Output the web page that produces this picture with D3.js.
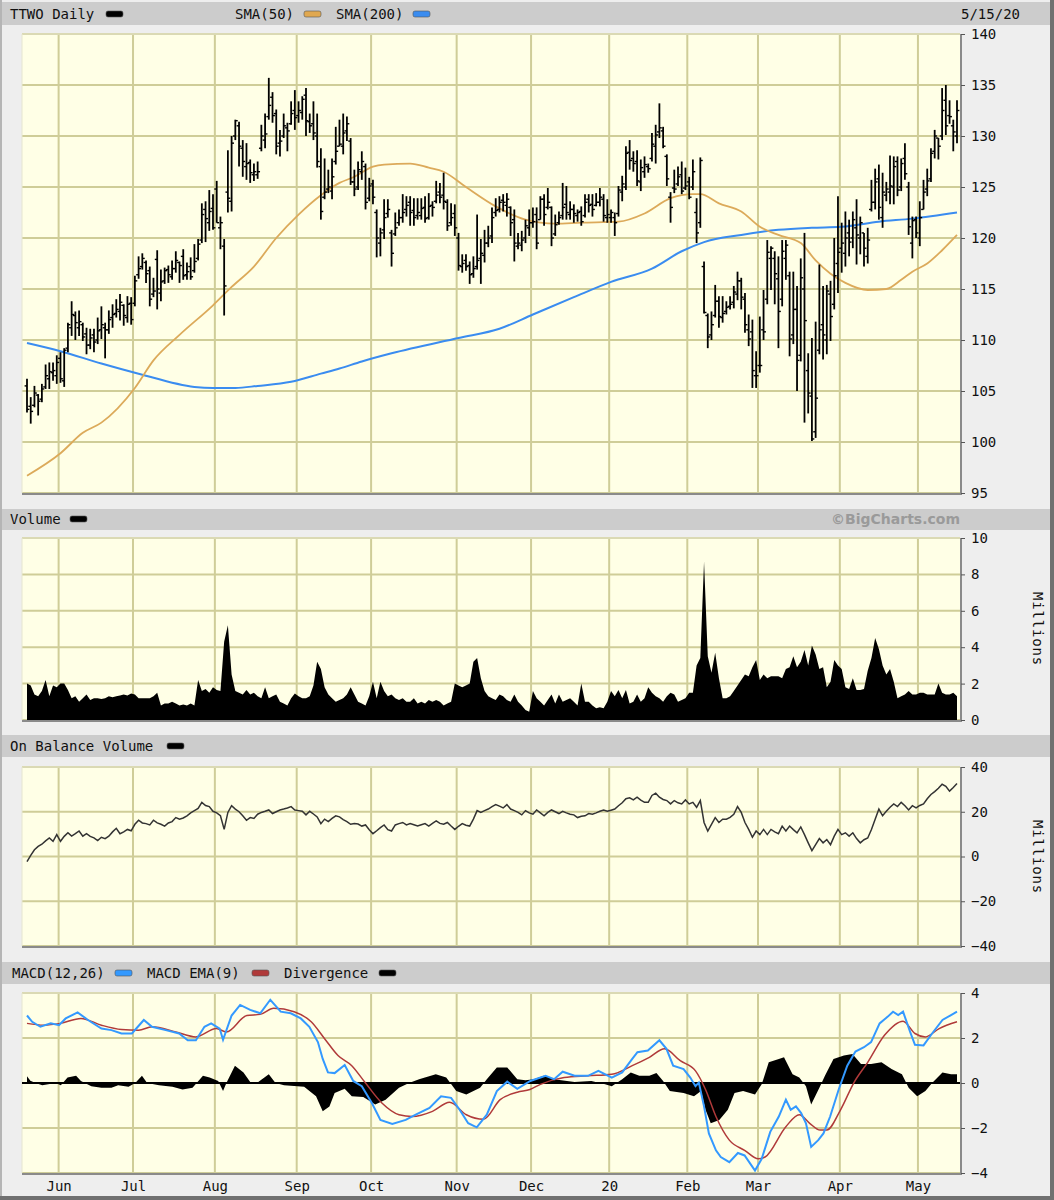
<!DOCTYPE html>
<html><head><meta charset="utf-8">
<script src="https://cdnjs.cloudflare.com/ajax/libs/d3/7.8.5/d3.min.js"></script>
<style>
body{margin:0;background:#eeeeee}
svg{display:block}
</style>
</head><body>
<svg id="c" width="1054" height="1200"></svg>
<script>
// ---------------- DATA ----------------
const opens=[105.5,103.5,103.6,104.6,104.2,105.4,106.2,106.8,106.5,108.2,
106.0,109.2,111.2,112.4,111.2,111.5,110.6,109.5,110.5,110.0,
111.0,111.2,111.0,112.2,112.6,112.8,113.4,112.2,113.6,113.6,
116.4,117.2,117.6,116.8,114.5,117.9,114.6,115.8,116.9,116.2,
117.0,117.6,118.2,116.4,117.2,116.8,118.0,119.8,122.8,121.5,
122.9,124.8,121.0,119.2,124.5,123.6,130.0,131.0,128.8,127.0,
127.4,126.2,126.2,128.8,129.6,131.9,133.8,132.2,129.3,130.0,
130.8,131.2,132.5,132.0,132.3,134.0,131.4,131.2,130.0,127.0,
124.0,124.8,124.6,127.5,129.0,129.0,130.5,129.5,125.5,125.0,
126.5,127.0,123.9,125.3,122.5,119.5,120.8,122.4,120.5,120.4,
121.5,122.0,122.8,123.5,122.7,122.2,122.2,123.0,122.0,123.2,
123.6,124.5,124.2,123.5,121.5,122.4,120.0,117.2,117.8,117.3,
116.5,117.2,118.0,118.3,119.5,120.2,122.5,122.8,123.7,123.2,
123.0,121.8,119.2,119.3,120.0,121.0,121.5,122.3,121.8,123.8,
123.0,123.0,120.4,121.5,122.2,123.3,122.3,122.8,122.2,122.6,
122.2,123.8,123.3,123.2,123.5,123.8,122.0,122.0,122.0,122.4,
124.5,125.0,128.4,127.8,127.5,125.5,126.5,127.0,127.8,129.0,
130.4,130.5,128.0,124.0,124.9,125.3,126.2,124.9,125.5,125.0,
122.5,121.5,117.2,112.4,110.5,112.4,113.8,112.2,112.8,113.3,
113.7,114.5,115.8,114.0,111.0,110.8,106.5,107.5,111.0,114.0,
118.0,118.0,116.0,114.0,118.0,116.3,110.5,113.0,108.5,115.0,
107.0,104.5,101.0,109.0,111.5,110.0,114.5,113.5,117.5,119.0,
118.5,120.5,120.0,121.0,120.0,120.5,118.2,122.8,123.5,125.8,
122.0,124.2,124.5,125.0,127.5,125.0,127.8,125.0,119.5,121.8,
120.0,122.8,124.8,125.8,128.5,129.8,130.0,133.5,132.0,131.0,
130.0];
const highs=[106.2,104.4,105.5,104.7,105.7,107.6,107.8,107.8,108.5,108.8,
109.2,111.7,113.8,112.8,112.9,111.7,111.2,111.1,111.1,112.2,
113.3,111.7,112.9,113.5,114.0,114.5,113.5,114.3,114.2,116.3,
118.2,118.5,117.8,117.2,116.1,118.8,116.9,117.1,117.3,117.8,
118.7,117.7,118.9,117.6,118.1,119.4,119.9,123.4,123.6,124.7,
124.3,125.6,122.1,119.9,128.6,130.0,131.6,131.4,129.6,129.3,
127.7,127.3,127.5,131.1,132.2,135.7,134.3,132.6,130.6,132.2,
131.3,133.4,134.5,133.4,133.9,134.7,132.2,133.4,132.2,128.8,
127.8,126.7,127.8,130.9,131.6,132.2,131.9,129.8,126.7,127.5,
128.5,127.3,125.9,125.7,122.8,121.0,123.8,123.8,120.8,122.5,
122.8,124.3,124.1,124.1,123.9,123.9,123.9,124.1,124.4,123.6,
125.6,125.4,126.4,123.8,123.4,123.3,120.5,118.4,118.4,117.7,
118.2,122.3,119.9,120.8,121.2,123.0,123.9,124.1,124.3,124.4,
123.1,122.8,120.5,120.7,121.8,122.8,123.0,123.0,124.1,124.3,
124.9,123.1,122.3,122.6,125.4,125.1,123.6,123.3,122.8,123.1,
124.3,124.3,124.3,124.4,124.9,124.3,123.8,122.8,122.5,125.1,
126.1,129.0,129.6,128.5,128.6,127.7,128.0,127.3,130.3,131.1,
133.2,130.9,128.2,124.5,126.7,127.0,127.5,126.9,126.0,127.7,
123.9,127.9,117.7,112.6,112.8,115.4,114.3,114.3,113.8,114.3,
115.3,116.7,116.1,114.6,112.5,112.0,108.9,112.3,114.9,119.8,
119.2,118.7,118.2,119.8,119.8,116.7,116.7,115.3,118.0,120.5,
108.7,110.2,111.8,117.4,115.3,115.4,115.8,120.0,124.1,121.5,
122.6,121.8,122.6,123.8,122.1,120.5,121.0,125.7,126.8,127.2,
126.4,125.5,128.1,128.0,128.0,127.8,129.3,125.5,122.1,122.1,
123.6,125.7,126.8,128.8,130.6,129.8,134.7,135.0,133.5,131.6,
133.5];
const lows=[102.9,101.8,103.4,102.6,103.9,105.2,105.2,106.0,105.7,105.8,
105.4,108.8,110.4,110.0,110.4,109.9,108.6,109.1,108.8,109.6,
110.1,108.2,110.6,111.2,112.2,111.9,111.4,111.7,111.5,113.3,
116.0,116.9,115.6,113.3,114.2,113.0,113.8,115.5,115.6,115.9,
116.6,115.6,115.9,115.9,115.9,116.6,117.8,119.5,119.6,120.7,
120.8,121.5,118.9,112.4,122.5,122.6,129.6,127.0,126.0,125.7,
125.4,125.6,125.8,128.5,128.8,131.6,131.3,128.2,128.0,129.8,
128.5,131.1,130.6,131.3,131.6,130.0,130.3,129.6,126.9,121.8,
123.8,124.4,123.8,127.2,129.0,128.2,129.5,125.2,124.1,124.7,
125.7,122.8,123.6,123.3,118.1,118.2,119.9,122.0,117.2,120.2,
121.2,121.5,122.1,121.2,121.2,121.8,121.8,121.5,121.8,122.1,
123.4,123.4,122.8,120.7,121.2,120.2,116.8,116.6,116.8,115.5,
116.1,116.9,115.5,117.6,119.1,119.5,122.1,122.5,122.6,122.1,
120.2,117.7,118.9,118.7,119.5,120.2,121.0,118.9,121.8,121.2,
122.8,119.2,120.2,121.3,121.8,121.8,121.8,121.5,121.6,121.2,
122.0,122.5,122.1,123.1,123.1,121.6,121.5,121.5,120.2,122.1,
123.6,124.7,126.7,126.5,125.1,124.6,125.9,126.4,127.5,127.3,
129.8,128.8,125.1,121.5,124.4,125.1,124.3,124.7,123.8,124.7,
119.5,121.0,112.6,109.2,110.0,112.2,111.2,111.7,112.5,113.0,
113.1,113.9,113.0,110.7,109.4,105.3,105.3,106.8,110.0,113.5,
114.9,113.5,109.2,113.3,115.9,108.4,109.6,105.0,107.9,101.9,
102.8,100.1,100.4,108.6,108.1,108.6,109.9,113.0,114.6,116.6,
117.2,118.2,119.0,117.4,118.4,117.2,117.5,122.6,122.8,121.8,
121.0,123.6,123.3,123.3,124.1,124.6,125.7,120.3,118.0,120.0,
119.2,122.8,124.1,125.5,127.8,127.7,129.6,130.1,131.2,128.5,
129.3];
const closes=[103.2,103.0,104.8,104.0,105.2,106.5,106.9,107.0,107.8,106.2,
109.0,111.5,112.5,111.7,111.8,110.3,109.5,110.2,109.8,110.9,
111.5,111.0,112.0,112.5,113.0,113.7,112.4,113.5,112.0,115.8,
117.0,118.0,116.5,114.0,114.8,115.0,115.7,116.8,116.4,117.0,
117.8,117.3,116.3,116.7,116.2,117.7,119.4,122.3,121.9,122.6,
121.0,121.5,121.5,115.3,123.9,129.3,131.5,129.0,127.5,127.3,
126.4,126.5,126.5,130.0,130.2,133.0,132.0,129.0,129.5,131.0,
130.5,132.2,131.8,132.5,133.6,131.5,131.0,130.3,127.5,122.6,
124.5,125.0,126.0,128.5,129.2,130.3,131.2,125.5,124.8,126.7,
127.5,123.5,125.1,124.0,120.0,120.5,122.0,122.8,118.5,121.0,
122.0,122.5,123.2,122.5,122.0,122.5,122.9,121.9,123.1,123.0,
124.2,124.0,123.6,121.2,122.0,121.0,117.3,117.5,117.2,116.4,
117.0,117.8,118.5,119.5,120.0,122.0,122.7,123.5,123.5,123.8,
121.5,119.5,119.5,119.8,121.2,121.5,121.6,119.5,123.8,122.3,
123.5,120.0,121.3,122.0,123.0,122.5,122.8,122.4,122.5,121.6,
123.5,123.2,122.8,123.5,124.0,122.2,122.3,122.5,121.5,124.7,
125.3,128.3,127.6,127.3,125.6,126.9,127.2,126.8,129.2,130.1,
130.8,129.0,125.8,123.0,124.8,126.0,124.6,125.1,124.0,126.5,
120.5,127.6,112.7,110.3,111.5,113.8,112.3,112.6,113.2,113.5,
114.7,115.8,114.2,111.5,110.1,107.0,106.5,107.5,110.8,118.6,
119.0,116.5,112.8,118.7,119.3,110.1,113.0,108.0,116.1,111.9,
104.8,100.3,104.3,111.0,110.5,114.8,112.3,116.3,118.6,119.5,
120.0,119.6,121.8,120.3,121.5,119.0,119.8,123.5,125.5,123.0,
124.5,124.8,125.1,127.0,124.7,127.3,126.3,121.1,121.7,120.5,
122.0,124.5,125.6,128.3,130.0,129.0,132.5,131.0,131.9,130.4,
132.5];
const volume=[2.0,1.9,1.4,1.3,1.6,2.2,1.3,1.9,1.8,2.0,
2.0,1.65,1.2,1.3,1.0,1.2,1.4,1.1,1.2,1.2,
1.15,1.2,1.3,1.25,1.3,1.35,1.4,1.35,1.45,1.4,
1.2,1.2,1.2,1.2,1.3,1.5,0.8,0.9,0.9,1.0,
0.9,0.8,0.85,0.8,0.9,0.8,2.2,1.6,1.7,1.5,
1.8,1.65,1.6,4.3,5.2,2.5,1.6,1.5,1.4,1.65,
1.4,1.5,1.3,1.2,1.8,1.2,1.3,1.4,1.0,0.9,
0.8,1.2,1.45,1.3,1.2,1.2,1.3,1.9,3.2,2.8,
1.8,1.4,1.2,1.0,1.1,1.2,1.4,1.8,1.4,1.0,
0.9,0.8,1.3,2.1,1.2,2.1,1.6,1.3,1.4,1.2,
1.1,1.2,1.0,1.0,1.2,0.9,1.0,0.9,1.1,1.0,
1.1,1.0,0.8,0.9,1.0,2.0,1.9,1.8,1.9,2.0,
3.2,3.4,2.3,1.6,1.3,1.2,1.1,1.4,1.3,1.1,
1.0,1.4,1.0,0.8,0.55,0.45,1.6,1.2,1.0,0.8,
1.1,1.4,0.9,1.4,1.0,1.1,1.2,1.0,0.8,2.0,
1.0,1.0,0.8,0.65,0.7,0.65,1.0,1.6,1.3,1.65,
1.2,1.65,0.9,1.0,1.4,1.0,1.2,1.8,1.5,1.3,
1.2,1.0,1.3,1.5,1.4,1.0,1.1,1.2,1.5,1.5,
3.0,3.4,8.7,3.5,2.6,3.7,2.3,1.2,1.2,1.3,
1.6,1.9,2.2,2.5,2.4,2.9,3.3,2.2,2.5,2.3,
2.4,2.4,2.4,2.3,2.8,2.9,3.5,2.9,3.2,3.85,
3.0,4.1,3.6,2.8,2.9,1.8,2.1,3.3,3.0,2.8,
1.8,1.7,2.3,1.65,1.65,1.7,2.7,3.4,4.5,3.9,
3.0,2.5,2.8,2.1,1.2,1.3,1.4,1.6,1.4,1.4,
1.5,1.5,1.4,1.4,1.4,2.0,1.5,1.4,1.4,1.5,
1.3];
const obv=[-2.3,0.5,3.0,4.5,5.5,7.0,8.3,6.8,9.8,6.8,
9.0,10.6,9.1,10.2,11.4,9.1,10.2,9.0,8.3,7.1,
8.6,8.0,9.1,11.0,12.6,10.2,11.0,12.1,11.5,14.4,
16.2,15.0,14.7,14.1,16.2,15.0,14.4,13.6,15.0,15.6,
17.4,16.7,17.2,18.2,19.5,20.5,21.5,24.2,22.8,22.3,
20.2,19.5,18.2,12.1,19.7,22.7,21.2,20.0,18.2,16.2,
17.4,17.0,18.9,19.7,20.2,20.8,19.2,20.0,20.8,21.2,
21.7,22.3,20.8,20.5,20.2,18.6,20.2,19.0,17.7,14.7,
16.7,15.6,17.0,18.2,17.7,16.5,15.6,14.4,14.7,14.5,
13.6,14.1,12.0,10.2,11.5,12.9,14.1,12.0,11.4,14.1,
14.7,15.2,14.1,14.7,14.2,13.6,14.2,14.7,13.6,14.8,
15.9,14.8,14.4,15.2,13.6,12.1,13.5,14.7,14.0,13.6,
16.7,20.5,19.7,20.5,21.2,22.3,23.2,22.5,21.7,23.2,
21.2,20.5,19.7,18.6,20.5,19.5,18.9,20.8,19.5,18.2,
19.7,20.8,20.0,19.2,20.2,19.5,18.9,18.6,17.4,18.0,
18.2,19.2,18.9,19.5,20.2,20.8,20.2,20.7,21.2,22.7,
24.0,25.8,26.2,25.3,26.5,25.2,24.2,24.2,27.3,28.3,
26.5,25.5,25.0,23.5,25.0,24.0,23.5,25.3,23.5,24.2,
22.0,25.0,15.2,11.4,14.4,17.4,15.2,16.7,16.7,17.5,
18.9,22.3,19.7,15.2,12.1,8.6,11.4,9.8,12.1,9.8,
12.1,11.0,10.2,13.6,11.4,13.6,12.0,10.6,13.2,9.8,
6.1,2.6,5.3,8.0,6.1,7.6,5.3,9.1,12.1,9.8,
10.6,9.1,10.6,8.0,6.1,7.5,8.3,12.1,16.7,21.2,
18.2,20.2,22.0,23.5,22.3,24.2,22.7,20.8,22.7,21.7,
22.8,23.5,25.8,27.7,29.0,30.5,32.3,31.4,29.2,30.8,
32.6];
// moving averages and MACD, read at trading-day positions
const sma50Day=[0,9,15,20,29,34,41,50,55,61,67,73,79,84,88,93,96,103,108,112,118,126,134,142,149,159,166,173,179,181,186,192,197,202,208,212,216,220,226,231,235,238,242,246,250];
const sma50Val=[96.7,98.9,100.9,101.9,105.3,108,110.5,113.4,115.2,117.2,120,122.3,124.2,125.4,126.0,127,127.2,127.3,126.9,126.5,125,123.1,121.8,121.4,121.5,121.6,122.4,123.9,124.3,124.3,123.4,122.6,121.1,120.3,119.5,117.8,116.5,115.6,114.9,115,115.9,116.7,117.5,118.8,120.3];
const sma200Day=[0,9,20,30,45,50,56,62,71,79,84,90,98,116,127,136,147,157,168,176,182,192,202,211,219,229,238,250];
const sma200Val=[109.7,108.9,107.7,106.7,105.4,105.3,105.3,105.5,105.9,106.7,107.2,107.9,108.7,110.2,111.1,112.5,114.2,115.7,117,118.7,119.6,120.3,120.8,121.0,121.1,121.6,121.9,122.5];
const macdDay=[0,1.4,3.6,6.4,8.6,10.4,13.6,16.4,20,22.7,25.4,28.2,31.4,33.6,37.3,40.9,43.2,45.4,47.7,49.5,51.8,52.7,55,57.3,60,62.7,65.4,68.2,70.9,73.6,75.9,78.2,79.5,80.9,82.7,85.4,87.7,90,92.7,95,98.2,101.8,104.5,108.2,111.3,114,116.3,118.6,120.9,123.6,126.3,129.1,131.8,135.3,139.4,141.7,144,147.2,150.8,153.6,157.2,160,162.7,164.1,166.9,170,171.9,173.7,176.5,178.3,179.7,180.6,182,183.3,185.2,186.5,188.8,191.1,192.9,195.7,197.5,199.8,202.1,204,205.3,206.7,208.1,209.4,210.8,212.7,214.1,215.9,218.2,220.5,222.7,225,226.9,229.2,231.4,232.8,234.2,235.5,237.4,238.7,241,243.3,246.1,248.4,250];
const macdVal=[3.0,2.72,2.5,2.65,2.57,2.87,3.14,2.8,2.42,2.35,2.2,2.2,2.8,2.5,2.35,2.2,1.9,1.9,2.5,2.65,2.42,1.92,3.0,3.47,3.25,3.1,3.7,3.17,3.1,2.87,2.5,1.82,1.07,0.47,0.44,0.8,0.09,-0.14,-0.89,-1.64,-1.82,-1.64,-1.41,-1.11,-0.59,-0.66,-1.19,-1.79,-1.97,-1.41,-0.36,0.06,-0.26,0.09,0.32,0.17,0.5,0.32,0.32,0.54,0.24,0.47,1.07,1.37,1.44,1.9,1.52,0.77,0.62,0.24,-0.14,0.02,-1.04,-2.24,-2.99,-3.29,-3.52,-3.11,-3.22,-3.89,-3.37,-2.17,-1.49,-0.74,-1.19,-1.04,-1.34,-1.79,-2.84,-2.54,-2.24,-1.49,-0.29,0.77,1.4,1.59,1.82,2.65,2.95,3.17,3.02,3.17,2.27,1.7,1.67,2.2,2.8,3.02,3.17];
const emaDay=[0,4.5,9,14.5,20,25.4,30,33.6,40,45.4,50.9,53.6,59.1,62.7,66.3,71.8,76.4,80,83.6,87.3,90.9,95.4,100,103.6,109,113.6,118.1,122.7,127.2,131.8,135.2,138,144.4,150.8,157.2,162.7,167.3,171.4,175.6,179.7,182.4,185.2,188.8,192.9,196.6,198.4,204,207.6,210.4,213.2,215,218.7,222.3,226,230.5,235.5,238.7,241.5,245.2,250];
const emaVal=[2.65,2.57,2.65,2.87,2.57,2.38,2.35,2.5,2.27,2.05,2.42,2.27,3.0,3.05,3.32,3.17,2.72,1.97,1.22,0.77,0.02,-0.89,-1.41,-1.49,-1.26,-0.86,-1.41,-1.61,-0.74,-0.41,-0.29,-0.06,0.24,0.32,0.39,0.77,1.14,1.52,0.99,0.54,-0.29,-1.49,-2.54,-2.99,-3.37,-3.29,-1.94,-1.41,-1.79,-2.09,-2.09,-1.19,0.02,0.92,2.12,2.75,2.2,2.05,2.42,2.72];
const divDay=[0,0.9,2.3,4.1,7.7,9.1,10.9,13.2,14.5,17.3,20,22.7,24.5,27.3,29.1,30.9,32.3,35.5,39.1,41.8,44.5,47.3,49.1,51.4,52.7,53.6,55.9,58.2,60,61.8,65,66.8,69.1,74.5,77.7,79.5,81.3,82.7,85.4,87.3,90.4,93.6,96.4,100,102.7,105.4,109.9,112.7,115.4,118.1,121.8,123.6,126.3,129.1,131.8,134,136.2,138.9,142.6,147.2,151.7,155.4,157.2,160,162.3,164.6,167.3,169.2,171,172.8,176.5,179.3,181.2,182.4,183.8,186.1,188.4,190.2,192.5,195.7,197.5,199.4,202.1,203.5,205.8,207.6,209.4,210.8,213.2,214.5,216.8,219.6,221.9,224.2,226.9,229.7,232.4,235.2,237,239.3,241.5,243.3,246.1,248.4,250];
const divVal=[0.3,0.1,0,-0.1,0,-0.1,0.24,0.32,0.09,-0.14,-0.21,-0.21,-0.1,-0.17,0,0.32,0,-0.1,-0.17,-0.29,-0.21,0.32,0.24,0.09,-0.36,0,0.77,0.47,0.05,0,0.39,0,-0.1,-0.17,-0.59,-1.26,-1.04,-0.44,-0.26,-0.59,-0.62,-0.96,-0.74,-0.21,0,0.17,0.39,0.24,-0.36,-0.51,-0.21,0.17,0.69,0.69,0.17,0.12,0.17,0.32,0.14,0.05,0.09,-0.06,-0.14,0.17,0.47,0.32,0.32,0.44,0.09,-0.36,-0.44,-0.59,-0.36,-1.19,-1.79,-1.64,-1.19,-0.44,-0.36,-0.51,-0.06,0.92,1.07,1.14,0.39,0.24,-0.14,-0.96,-0.14,0.32,1.07,1.22,1.29,0.84,0.84,0.92,0.62,0.39,-0.21,-0.59,-0.36,0,0.47,0.39,0.39];
const monthLabels=["Jun","Jul","Aug","Sep","Oct","Nov","Dec","20","Feb","Mar","Apr","May"];
const monthStart=[9,29,51,73,93,116,136,157,178,197,219,240];
const priceTicks=[95,100,105,110,115,120,125,130,135,140];
const volTicks=[0,2,4,6,8,10];
const obvTicks=[-40,-20,0,20,40];
const macdTicks=[-4,-2,0,2,4];

// ---------------- DRAW ----------------
const FONT='"DejaVu Sans Mono", monospace';
const svg=d3.select("#c");
const W=1054,H=1200,L=22,R=960;
const x=d3.scaleLinear().domain([0,closes.length-1]).range([27,957]);

svg.append("rect").attr("width",W).attr("height",H).attr("fill","#eeeeee");
svg.append("rect").attr("x",0).attr("y",0).attr("width",2).attr("height",H).attr("fill","#b5b5b5");
svg.append("rect").attr("x",1050).attr("y",0).attr("width",4).attr("height",H).attr("fill","#707070");
svg.append("rect").attr("x",0).attr("y",1196).attr("width",W).attr("height",4).attr("fill","#707070");

function header(top,h,items,right){
  svg.append("rect").attr("x",2).attr("y",top).attr("width",1048).attr("height",h).attr("fill","#cccccc");
  const base=top+h-6;
  items.forEach(it=>{
    svg.append("text").attr("x",it.x).attr("y",base).attr("font-family",FONT).attr("font-size",14).attr("fill","#111").text(it.t);
    if(it.c){
      svg.append("rect").attr("x",it.sx).attr("y",base-8).attr("width",17).attr("height",6).attr("rx",2)
        .attr("fill",it.c).attr("stroke","#555").attr("stroke-width",0.6);
    }
  });
  if(right){
    svg.append("text").attr("x",right.x).attr("y",base).attr("text-anchor",right.anchor||"start")
      .attr("font-family",right.font||FONT).attr("font-size",right.size||14).attr("font-weight",right.weight||"normal")
      .attr("fill",right.fill||"#111").text(right.t);
  }
}
header(2,23,[{t:"TTWO Daily",x:10,c:"#000",sx:106},{t:"SMA(50)",x:235,c:"#e0a850",sx:304},{t:"SMA(200)",x:336,c:"#3a8cf0",sx:413}],{t:"5/15/20",x:961});
header(509,21,[{t:"Volume",x:10,c:"#000",sx:70}],{t:"©BigCharts.com",x:960,anchor:"end",font:'"DejaVu Sans", sans-serif',weight:"bold",fill:"#9a9a9a",size:14});
header(735,22,[{t:"On Balance Volume",x:10,c:"#000",sx:167}]);
header(962,22,[{t:"MACD(12,26)",x:12,c:"#3399ff",sx:115},{t:"MACD EMA(9)",x:147,c:"#b03a3a",sx:252},{t:"Divergence",x:284,c:"#000",sx:379}]);

function panel(top,bottom,domain,ticks){
  const y=d3.scaleLinear().domain(domain).range([bottom,top]);
  const g=svg.append("g");
  g.append("rect").attr("x",L).attr("y",top).attr("width",R-L).attr("height",bottom-top).attr("fill","#ffffe6");
  g.selectAll(null).data(monthStart).join("line")
    .attr("x1",d=>x(d-0.5)).attr("x2",d=>x(d-0.5)).attr("y1",top).attr("y2",bottom)
    .attr("stroke","#cfcd98").attr("stroke-width",2);
  g.selectAll(null).data(ticks).join("line")
    .attr("x1",L).attr("x2",R).attr("y1",d=>y(d)).attr("y2",d=>y(d))
    .attr("stroke","#cfcd98").attr("stroke-width",2);
  g.append("line").attr("x1",L).attr("x2",R).attr("y1",top).attr("y2",top).attr("stroke","#e6e6d0").attr("stroke-width",1);
  g.append("line").attr("x1",L).attr("x2",L).attr("y1",top).attr("y2",bottom).attr("stroke","#e6e6d0").attr("stroke-width",1);
  g.append("line").attr("x1",L).attr("x2",R+2).attr("y1",bottom+1).attr("y2",bottom+1).attr("stroke","#8a8a8a").attr("stroke-width",2);
  g.append("line").attr("x1",R+1).attr("x2",R+1).attr("y1",top).attr("y2",bottom+2).attr("stroke","#8a8a8a").attr("stroke-width",2);
  const ax=svg.append("g").attr("transform",`translate(${R+1},0)`)
    .call(d3.axisRight(y).tickValues(ticks).tickSize(4).tickPadding(6).tickFormat(d3.format("d")));
  ax.select(".domain").remove();
  ax.selectAll("line").attr("stroke","#555");
  ax.selectAll("text").attr("font-family",FONT).attr("font-size",14).attr("fill","#111");
  return y;
}

// price panel
const yp=panel(34,493,[95,140],priceTicks);
const pts=(days,vals)=>days.map((d,i)=>[d,vals[i]]);
const pg=svg.append("g");
pg.append("path").datum(pts(sma200Day,sma200Val)).attr("fill","none").attr("stroke","#3a8cf0").attr("stroke-width",2)
  .attr("d",d3.line().x(d=>x(d[0])).y(d=>yp(d[1])).curve(d3.curveMonotoneX));
pg.append("path").datum(pts(sma50Day,sma50Val)).attr("fill","none").attr("stroke","#dcaa5a").attr("stroke-width",1.8)
  .attr("d",d3.line().x(d=>x(d[0])).y(d=>yp(d[1])).curve(d3.curveMonotoneX));
const idx=d3.range(closes.length);
pg.selectAll(null).data(idx).join("line")
  .attr("x1",i=>x(i)).attr("x2",i=>x(i)).attr("y1",i=>yp(highs[i])).attr("y2",i=>yp(lows[i]))
  .attr("stroke","#000").attr("stroke-width",1.8);
pg.selectAll(null).data(idx).join("line")
  .attr("x1",i=>x(i)-2.4).attr("x2",i=>x(i)).attr("y1",i=>yp(opens[i])).attr("y2",i=>yp(opens[i]))
  .attr("stroke","#000").attr("stroke-width",1.4);
pg.selectAll(null).data(idx).join("line")
  .attr("x1",i=>x(i)).attr("x2",i=>x(i)+2.4).attr("y1",i=>yp(closes[i])).attr("y2",i=>yp(closes[i]))
  .attr("stroke","#000").attr("stroke-width",1.4);

// volume panel
const yv=panel(538,720,[0,10],volTicks);
svg.append("path").datum(volume).attr("fill","#000")
  .attr("d",d3.area().x((d,i)=>x(i)).y0(yv(0)).y1(d=>yv(d)));

// OBV panel
const yo=panel(767,946,[-40,40],obvTicks);
svg.append("path").datum(obv).attr("fill","none").attr("stroke","#333").attr("stroke-width",1.5)
  .attr("d",d3.line().x((d,i)=>x(i)).y(d=>yo(d)));

// Millions labels
[[629],[857]].forEach(([cy])=>{
  svg.append("text").attr("transform",`translate(1033,${cy}) rotate(90)`).attr("text-anchor","middle")
    .attr("font-family",FONT).attr("font-size",14).attr("letter-spacing",0.8).attr("fill","#111").text("Millions");
});

// MACD panel
const ym=panel(993,1173,[-4,4],macdTicks);
svg.append("path").datum(pts(divDay,divVal)).attr("fill","#000")
  .attr("d",d3.area().x(d=>x(d[0])).y0(ym(0)).y1(d=>ym(d[1])));
svg.append("line").attr("x1",L).attr("x2",R).attr("y1",ym(0)).attr("y2",ym(0)).attr("stroke","#000").attr("stroke-width",2);
svg.append("path").datum(pts(emaDay,emaVal)).attr("fill","none").attr("stroke","#b03a3a").attr("stroke-width",1.5)
  .attr("d",d3.line().x(d=>x(d[0])).y(d=>ym(d[1])).curve(d3.curveMonotoneX));
svg.append("path").datum(pts(macdDay,macdVal)).attr("fill","none").attr("stroke","#3399ff").attr("stroke-width",2)
  .attr("d",d3.line().x(d=>x(d[0])).y(d=>ym(d[1])));

// month axis
const mx=svg.append("g").attr("transform","translate(0,1174)")
  .call(d3.axisBottom(x).tickValues(monthStart.map(d=>d-0.5)).tickSize(0).tickPadding(7).tickFormat((d,i)=>monthLabels[i]));
mx.select(".domain").remove();
mx.selectAll("text").attr("font-family",FONT).attr("font-size",14).attr("fill","#111");
</script>
</body></html>
